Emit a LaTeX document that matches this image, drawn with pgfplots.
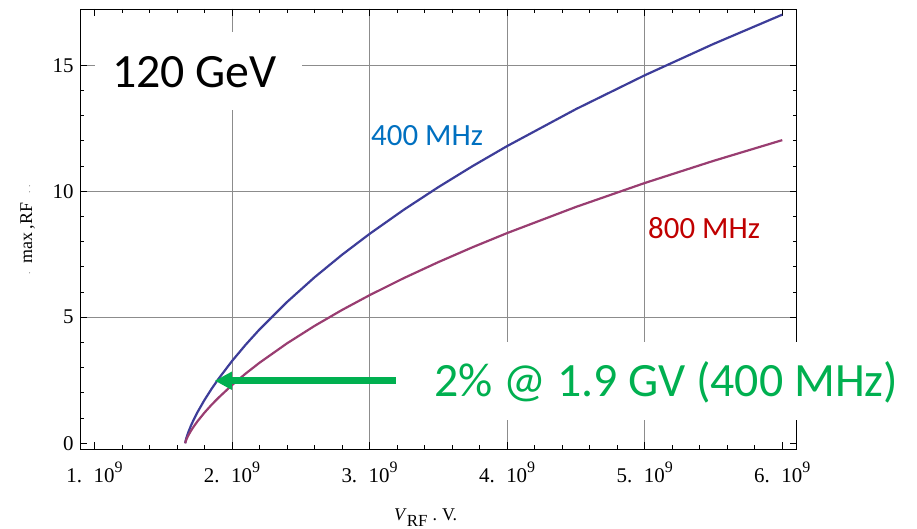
\documentclass[border=0pt]{standalone}
\usepackage{fontspec}
\setmainfont{Liberation Serif}
\newfontfamily\carlito{Carlito}
\usepackage{pgfplots}
\pgfplotsset{compat=1.18}
\usetikzlibrary{arrows.meta}

\definecolor{mmablue}{RGB}{61,61,153}
\definecolor{mmapurple}{RGB}{153,61,113}
\definecolor{lblblue}{RGB}{0,112,192}
\definecolor{lblred}{RGB}{192,0,0}
\definecolor{lblgreen}{RGB}{0,176,80}

% RF acceptance vs. RF voltage (x in units of 10^9 V)
\pgfplotstableread{
V      d
1.660  0
1.662  0.072
1.665  0.144
1.670  0.241
1.680  0.405
1.700  0.680
1.720  0.919
1.750  1.241
1.800  1.717
1.850  2.146
1.900  2.542
2.000  3.262
2.100  3.914
2.200  4.516
2.400  5.605
2.600  6.584
2.800  7.479
3.000  8.307
3.250  9.269
3.500  10.162
3.750  11.000
4.000  11.791
4.500  13.257
5.000  14.599
5.500  15.843
6.000  17.006
}\fourhundred

\pgfplotstableread{
V      d
1.660  0
1.662  0.051
1.665  0.102
1.670  0.171
1.680  0.287
1.700  0.481
1.720  0.650
1.750  0.878
1.800  1.215
1.850  1.518
1.900  1.797
2.000  2.307
2.100  2.768
2.200  3.194
2.400  3.964
2.600  4.656
2.800  5.289
3.000  5.875
3.250  6.555
3.500  7.187
3.750  7.780
4.000  8.339
4.500  9.376
5.000  10.325
5.500  11.204
6.000  12.027
}\eighthundred

\newcommand{\gv}[1]{#1.\hspace{0.55em}10\raisebox{0.5em}{\fontsize{16}{16}\selectfont 9}}

\begin{document}
\begin{tikzpicture}
\useasboundingbox (0,0) rectangle (917bp,529bp);
\begin{axis}[
  at={(80bp,79.7bp)}, anchor=south west,
  scale only axis, width=716.7bp, height=440.3bp,
  xmin=0.895, xmax=6.105, ymin=-0.24, ymax=17.23,
  axis line style={black, line width=0.9bp},
  tick align=inside,
  major tick length=7bp, minor tick length=4bp,
  tick style={black, line width=0.8bp},
  xtick={1,2,3,4,5,6},
  xticklabels={\gv{1},\gv{2},\gv{3},\gv{4},\gv{5},\gv{6}},
  minor x tick num=4,
  ytick={0,5,10,15},
  yticklabels={0,5,10,15},
  minor y tick num=4,
  tick label style={font=\fontsize{21}{24}\selectfont},
  xticklabel style={anchor=base, yshift=-33.4bp},
  yticklabel style={anchor=east, xshift=-3bp},
  extra x ticks={2,3,4,5},
  extra x tick labels={},
  extra x tick style={grid=major},
  extra y ticks={5,10,15},
  extra y tick labels={},
  extra y tick style={grid=major},
  major grid style={black!45, line width=0.8bp},
]
\addplot[mmablue, line width=2.2bp] table[x=V, y=d] {\fourhundred};
\addplot[mmapurple, line width=2.2bp] table[x=V, y=d] {\eighthundred};
% arrow to the 400 MHz curve at 1.9 GV
\draw[lblgreen, line width=6.5bp, -{Triangle[length=17bp, width=17bp]}]
  (axis cs:3.189,2.48) -- (axis cs:1.875,2.48);
\end{axis}

% annotations
\fill[white] (95bp,419bp) rectangle (301.7bp,497bp);
\node[anchor=base west, inner sep=0pt, font=\carlito\fontsize{48}{48}\selectfont]
  at (112bp,441.7bp) {120 GeV};
\node[anchor=base west, inner sep=0pt, text=lblblue, font=\carlito\fontsize{31}{31}\selectfont]
  at (371bp,383.3bp) {400 MHz};
\node[anchor=base west, inner sep=0pt, text=lblred, font=\carlito\fontsize{31}{31}\selectfont]
  at (648bp,290bp) {800 MHz};
\fill[white] (400bp,109bp) rectangle (910bp,187bp);
\node[anchor=base west, inner sep=0pt, text=lblgreen, font=\carlito\fontsize{48}{48}\selectfont]
  at (434bp,132bp) {2\% @ 1.9 GV (400 MHz)};

% axis labels
\node[anchor=base west, inner sep=0pt, font=\fontsize{18}{18}\selectfont]
  at (394bp,9bp) {\textit{V}\raisebox{-6bp}{\fontsize{17}{17}\selectfont RF}\hspace{5bp}.\hspace{5bp}V.};
\node[rotate=90, anchor=base, inner sep=0pt, font=\fontsize{18}{18}\selectfont]
  at (32bp,299bp) {{\fontsize{7}{7}\selectfont·}\ \ max\,,RF\ \ {\fontsize{7}{7}\selectfont·\ \ ·}};
\end{tikzpicture}
\end{document}
